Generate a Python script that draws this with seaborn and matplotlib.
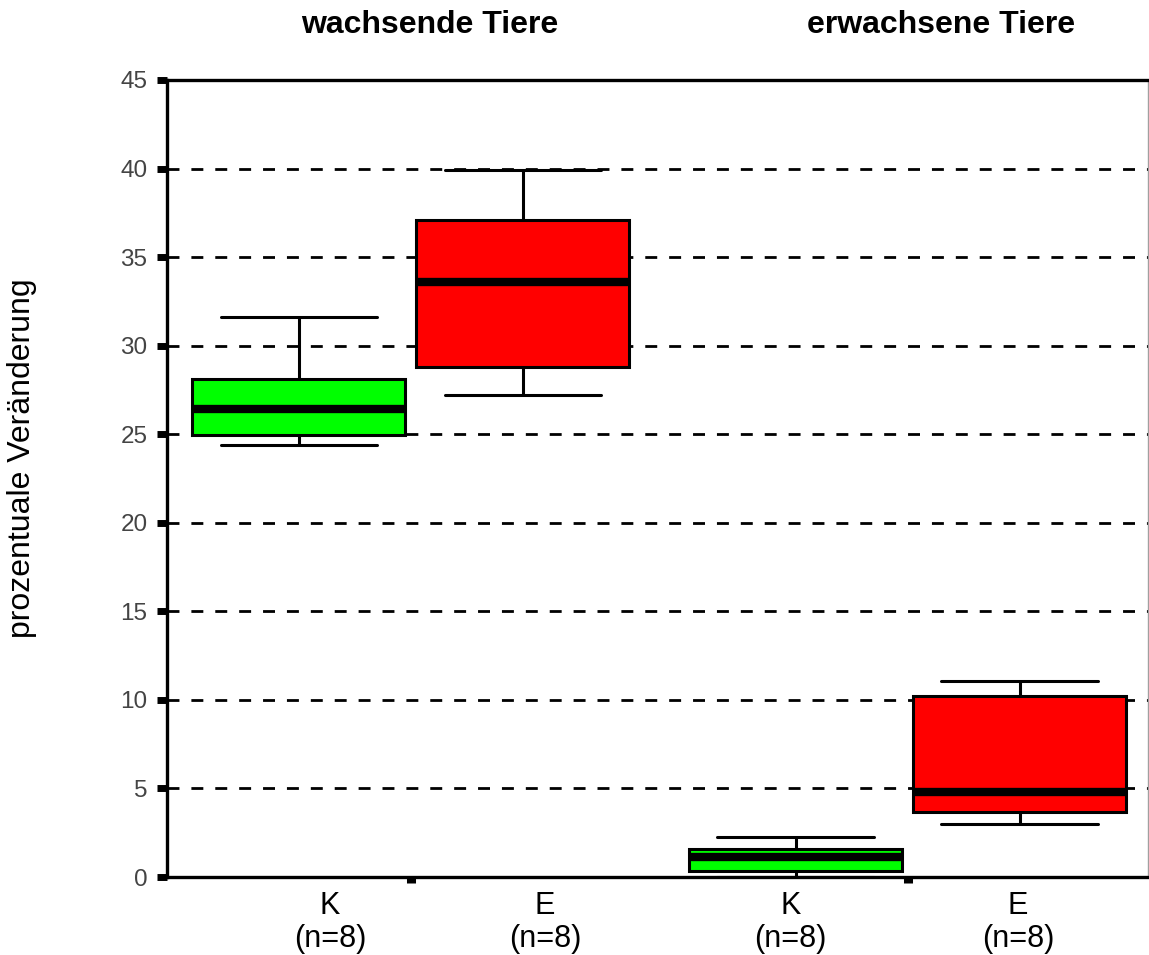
import numpy as np
import pandas as pd
import matplotlib
matplotlib.use("Agg")
import matplotlib.pyplot as plt
import seaborn as sns

# Five-number summaries (lower whisker, Q1, median, Q3, upper whisker), percent change
alter_groups = ["wachsende Tiere", "erwachsene Tiere"]
gruppen = ["K", "E"]
whisker_low = [24.4, 27.2, 0.0, 3.0]
q1 = [24.97, 28.8, 0.34, 3.67]
median = [26.44, 33.6, 1.12, 4.8]
q3 = [28.14, 37.1, 1.58, 10.23]
whisker_high = [31.64, 39.9, 2.26, 11.07]
n_per_box = [8, 8, 8, 8]
y_ticks = [0, 5, 10, 15, 20, 25, 30, 35, 40, 45]

# Build an 8-value sample per box that reproduces each summary
rows = []
i = 0
for alter in alter_groups:
    for g in gruppen:
        sample = [whisker_low[i], q1[i], q1[i], median[i], median[i],
                  q3[i], q3[i], whisker_high[i]]
        for v in sample:
            rows.append({"Alter": alter, "Gruppe": g, "Wert": v})
        i += 1
df = pd.DataFrame(rows)

sns.set_style("white")
plt.rcParams["font.family"] = ["Liberation Sans", "DejaVu Sans"]
plt.rcParams["text.color"] = "black"

W, H = 1149, 955
fig = plt.figure(figsize=(W / 100, H / 100), dpi=100)
ax = fig.add_axes([167 / W, 1 - 877 / H, (1148 - 167) / W, (877 - 80) / H])

sns.boxplot(
    data=df, x="Alter", y="Wert", hue="Gruppe",
    order=alter_groups, hue_order=gruppen,
    palette={"K": "#00ff00", "E": "#ff0000"}, saturation=1,
    width=0.902, gap=0.05, linecolor="black", linewidth=2.2,
    whis=1.5, fliersize=0, legend=False, ax=ax,
    medianprops=dict(linewidth=6, color="black", solid_capstyle="butt"),
    capwidths=0.315,
)

ax.set_xlim(-0.491, 1.484)
ax.set_ylim(0, 45)
ax.set_yticks(y_ticks)
ax.set_yticklabels([str(t) for t in y_ticks], color="#444444", fontsize=17.5)

# dashed horizontal reference lines
for t in y_ticks[1:-1]:
    ax.axhline(t, color="black", lw=2.0, dashes=(4.3, 4.3), zorder=0.5)

# group tick marks (major) and per-box labels (minor)
ax.set_xticks([0, 1])
ax.set_xticklabels(["", ""])
label_pos = [-0.163, 0.27, 0.764, 1.222]
labels = [f"{g}\n(n={n})" for g, n in zip(gruppen * 2, n_per_box)]
ax.set_xticks(label_pos, minor=True)
ax.set_xticklabels(labels, minor=True, fontsize=22, linespacing=1.15,
                   color="black")
ax.tick_params(axis="x", which="minor", bottom=True, length=0, pad=10)
ax.tick_params(axis="x", which="major", bottom=True, direction="out",
               length=4, width=6.5, color="black")
ax.tick_params(axis="y", left=True, direction="out", length=7, width=5,
               color="black", pad=7)
ax.set_xlabel("")
ax.set_ylabel("")

for side in ["left", "bottom", "top"]:
    ax.spines[side].set_color("black")
    ax.spines[side].set_linewidth(2.4)
ax.spines["right"].set_color("#a0a0a0")
ax.spines["right"].set_linewidth(1.0)

# group headings and y-axis title
fig.text(430 / W, 1 - 25 / H, "wachsende Tiere", ha="center", va="center",
         fontsize=23, fontweight="bold", color="black")
fig.text(941 / W, 1 - 25 / H, "erwachsene Tiere", ha="center", va="center",
         fontsize=23, fontweight="bold", color="black")
fig.text(22 / W, 1 - 458 / H, "prozentuale Veränderung", rotation=90,
         ha="center", va="center", fontsize=23, color="black")

fig.savefig("out.png", dpi=100)
